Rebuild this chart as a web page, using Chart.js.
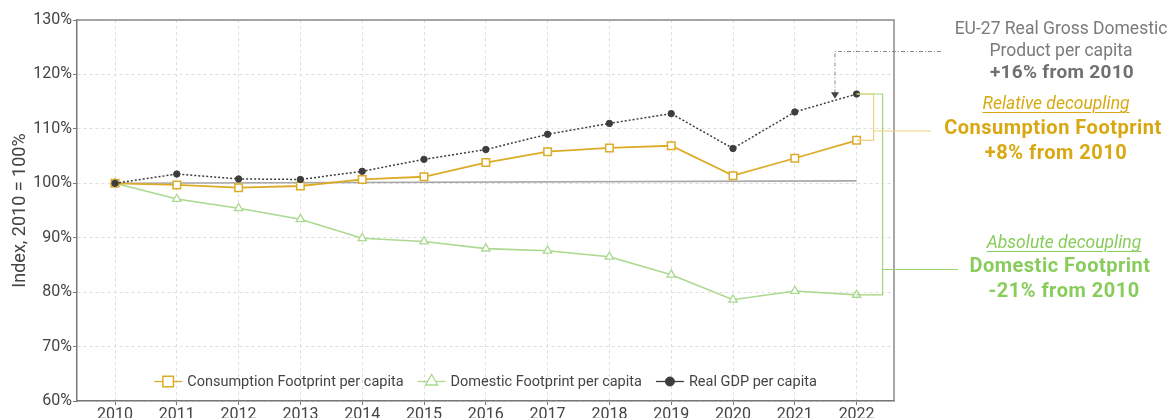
<!DOCTYPE html>
<html>
<head>
<meta charset="utf-8">
<script src="https://cdn.jsdelivr.net/npm/chart.js@4/dist/chart.umd.min.js"></script>
<style>
  body { margin: 0; background: #fff; }
  #wrap { position: relative; width: 1168px; height: 418px; font-family: Roboto, "Noto Sans", sans-serif; }
  #chart { position: absolute; left: 0; top: 0; }
  .note { position: absolute; left: 938px; width: 240px; text-align: center; white-space: nowrap; }
  .gray { color: #7b7b7b; font-size: 17.5px; }
  .gray.b { font-weight: bold; font-size: 19px; color: #707070; letter-spacing: 0.3px; }
  .gold { color: #d8a812; }
  .green { color: #88cc5c; }
  .sub { font-style: italic; text-decoration: underline; text-decoration-thickness: 1px; text-underline-offset: 3px; font-size: 17.5px; }
  .big { font-weight: bold; font-size: 20px; letter-spacing: 0.5px; }
</style>
</head>
<body>
<div id="wrap">
  <canvas id="chart" width="1168" height="418"></canvas>
  <div class="note gray" style="top:17px;line-height:22px;left:941px">EU-27 Real Gross Domestic</div>
  <div class="note gray" style="top:39px;line-height:22px;left:941px">Product per capita</div>
  <div class="note gray b" style="top:61px;line-height:22px;left:942px">+16% from 2010</div>
  <div class="note gold sub" style="top:92px;line-height:22px;left:936px">Relative decoupling</div>
  <div class="note gold big" style="top:115px;line-height:24px;left:933px">Consumption Footprint</div>
  <div class="note gold big" style="top:140px;line-height:24px;left:936px">+8% from 2010</div>
  <div class="note green sub" style="top:231px;line-height:22px;left:944px">Absolute decoupling</div>
  <div class="note green big" style="top:253px;line-height:24px;left:940px">Domestic Footprint</div>
  <div class="note green big" style="top:278px;line-height:24px;left:944px">-21% from 2010</div>
</div>
<script>
const years = [2010, 2011, 2012, 2013, 2014, 2015, 2016, 2017, 2018, 2019, 2020, 2021, 2022];
const consumption = [100, 99.7, 99.2, 99.5, 100.7, 101.2, 103.8, 105.8, 106.5, 106.9, 101.4, 104.6, 107.9];
const domestic = [100, 97.1, 95.4, 93.4, 89.9, 89.3, 88.0, 87.6, 86.5, 83.2, 78.6, 80.2, 79.5];
const gdp = [100, 101.7, 100.8, 100.7, 102.2, 104.4, 106.2, 109.0, 111.0, 112.8, 106.4, 113.1, 116.4];
const baseYears = [2010, 2022];
const baseline = [100, 100.45];
const yTicks = [60, 70, 80, 90, 100, 110, 120, 130];

const GOLD = '#dcab28';
const GREEN = '#aad98f';
const DARK = '#3d3d3d';
const FONT = 'Roboto, "Noto Sans", sans-serif';

const pts = (xs, ys) => xs.map((x, i) => ({ x: x, y: ys[i] }));

// frame, brackets, arrow and legend drawn over the plot
const extras = {
  id: 'extras',
  afterDatasetsDraw(chart) {
    const { ctx, chartArea: a, scales: { x, y } } = chart;
    ctx.save();

    // box round the plot
    ctx.strokeStyle = '#8a8a8a';
    ctx.lineWidth = 1.5;
    ctx.beginPath();
    ctx.moveTo(a.left, a.top);
    ctx.lineTo(a.right, a.top);
    ctx.lineTo(a.right, a.bottom);
    ctx.stroke();

    const last = years.length - 1;
    const xe = x.getPixelForValue(years[last]);
    const yG = y.getPixelForValue(gdp[last]);
    const yC = y.getPixelForValue(consumption[last]);
    const yD = y.getPixelForValue(domestic[last]);

    // green bracket: GDP to domestic footprint
    ctx.lineWidth = 1.2;
    ctx.strokeStyle = '#9fd477';
    ctx.beginPath();
    ctx.moveTo(xe, yG); ctx.lineTo(xe + 26, yG); ctx.lineTo(xe + 26, yD); ctx.lineTo(xe, yD);
    ctx.moveTo(xe + 26, 269.5); ctx.lineTo(958, 269.5);
    ctx.stroke();

    // gold bracket: GDP to consumption footprint
    ctx.strokeStyle = '#ecd07e';
    ctx.beginPath();
    ctx.moveTo(xe, yG); ctx.lineTo(xe + 17, yG); ctx.lineTo(xe + 17, yC); ctx.lineTo(xe, yC);
    ctx.moveTo(xe + 17, 131); ctx.lineTo(931, 131);
    ctx.stroke();

    // dash-dot pointer to the GDP line
    const xa = x.getPixelForValue(2021.65);
    const tip = y.getPixelForValue(gdp[last - 1] + 0.65 * (gdp[last] - gdp[last - 1])) - 1.5;
    ctx.strokeStyle = '#8c8c8c';
    ctx.lineWidth = 1;
    ctx.setLineDash([4, 2, 1, 2]);
    ctx.beginPath();
    ctx.moveTo(941, 51.5); ctx.lineTo(xa, 51.5); ctx.lineTo(xa, tip - 5);
    ctx.stroke();
    ctx.setLineDash([]);
    ctx.fillStyle = '#444';
    ctx.beginPath();
    ctx.moveTo(xa - 4, tip - 6.5); ctx.lineTo(xa + 4, tip - 6.5); ctx.lineTo(xa, tip);
    ctx.closePath();
    ctx.fill();

    // legend inside the bottom of the plot
    ctx.font = '14.5px ' + FONT;
    ctx.textBaseline = 'middle';
    const items = chart.data.datasets.filter(d => d.label);
    const lineW = 28, gap = 5, sep = 14;
    const widths = items.map(d => lineW + gap + ctx.measureText(d.label).width);
    const total = widths.reduce((s, w) => s + w, 0) + sep * (items.length - 1);
    let lx = (a.left + a.right) / 2 - total / 2;
    const ly = 381.5;
    items.forEach((d, i) => {
      ctx.strokeStyle = d.borderColor;
      ctx.lineWidth = 1.3;
      ctx.beginPath();
      ctx.moveTo(lx, ly); ctx.lineTo(lx + lineW, ly);
      ctx.stroke();
      ctx.fillStyle = d.pointBackgroundColor;
      ctx.strokeStyle = d.pointBorderColor;
      ctx.lineWidth = d.pointBorderWidth;
      Chart.helpers.drawPoint(ctx, {
        pointStyle: d.pointStyle, radius: d.legendRadius, rotation: 0, borderWidth: d.pointBorderWidth
      }, lx + lineW / 2, ly);
      ctx.fillStyle = '#444';
      ctx.fillText(d.label, lx + lineW + gap, ly + 0.5);
      lx += widths[i] + sep;
    });
    ctx.restore();
  }
};

new Chart(document.getElementById('chart'), {
  type: 'line',
  data: {
    datasets: [
      {
        label: 'Consumption Footprint per capita',
        data: pts(years, consumption),
        borderColor: GOLD, borderWidth: 1.8,
        pointStyle: 'rect', pointRadius: 5.3, legendRadius: 7.5,
        pointBackgroundColor: '#fff', pointBorderColor: GOLD, pointBorderWidth: 1.5,
        order: 2
      },
      {
        label: 'Domestic Footprint per capita',
        data: pts(years, domestic),
        borderColor: GREEN, borderWidth: 1.6,
        pointStyle: 'triangle', pointRadius: 4.8, legendRadius: 7,
        pointBackgroundColor: '#fff', pointBorderColor: GREEN, pointBorderWidth: 1.3,
        order: 3
      },
      {
        label: 'Real GDP per capita',
        data: pts(years, gdp),
        borderColor: DARK, borderWidth: 1.5, borderDash: [2, 2],
        pointStyle: 'circle', pointRadius: 3.2, legendRadius: 4.5,
        pointBackgroundColor: DARK, pointBorderColor: DARK, pointBorderWidth: 1,
        order: 1
      },
      {
        data: pts(baseYears, baseline),
        borderColor: '#a8a8a8', borderWidth: 1.6,
        pointRadius: 0,
        order: 4
      }
    ]
  },
  options: {
    responsive: false,
    animation: false,
    layout: { padding: { left: 0, right: 274, top: 20, bottom: 0 } },
    plugins: { legend: { display: false }, tooltip: { enabled: false } },
    elements: { line: { tension: 0 } },
    scales: {
      x: {
        type: 'linear',
        min: 2009.385,
        max: 2022.605,
        afterBuildTicks: s => { s.ticks = years.map(v => ({ value: v })); },
        afterFit: s => { s.height = 17; },
        grid: { color: '#dedede', tickColor: '#777', tickLength: 4 },
        border: { color: '#777', width: 1.5, dash: [3, 3] },
        ticks: { color: '#444', font: { family: FONT, size: 16 }, padding: 0, maxRotation: 0, callback: v => String(v) }
      },
      y: {
        min: 60,
        max: 130,
        afterBuildTicks: s => { s.ticks = yTicks.map(v => ({ value: v })); },
        afterFit: s => { s.width = 77; },
        grid: { color: '#dedede', tickColor: '#777', tickLength: 4 },
        border: { color: '#777', width: 1.5, dash: [3, 3] },
        ticks: { color: '#444', font: { family: FONT, size: 16 }, padding: 1, callback: v => v + '%' },
        title: {
          display: true,
          text: 'Index, 2010 = 100%',
          color: '#444',
          font: { family: FONT, size: 18 },
          padding: { top: 10, bottom: 0 }
        }
      }
    }
  },
  plugins: [extras]
});
</script>
</body>
</html>
